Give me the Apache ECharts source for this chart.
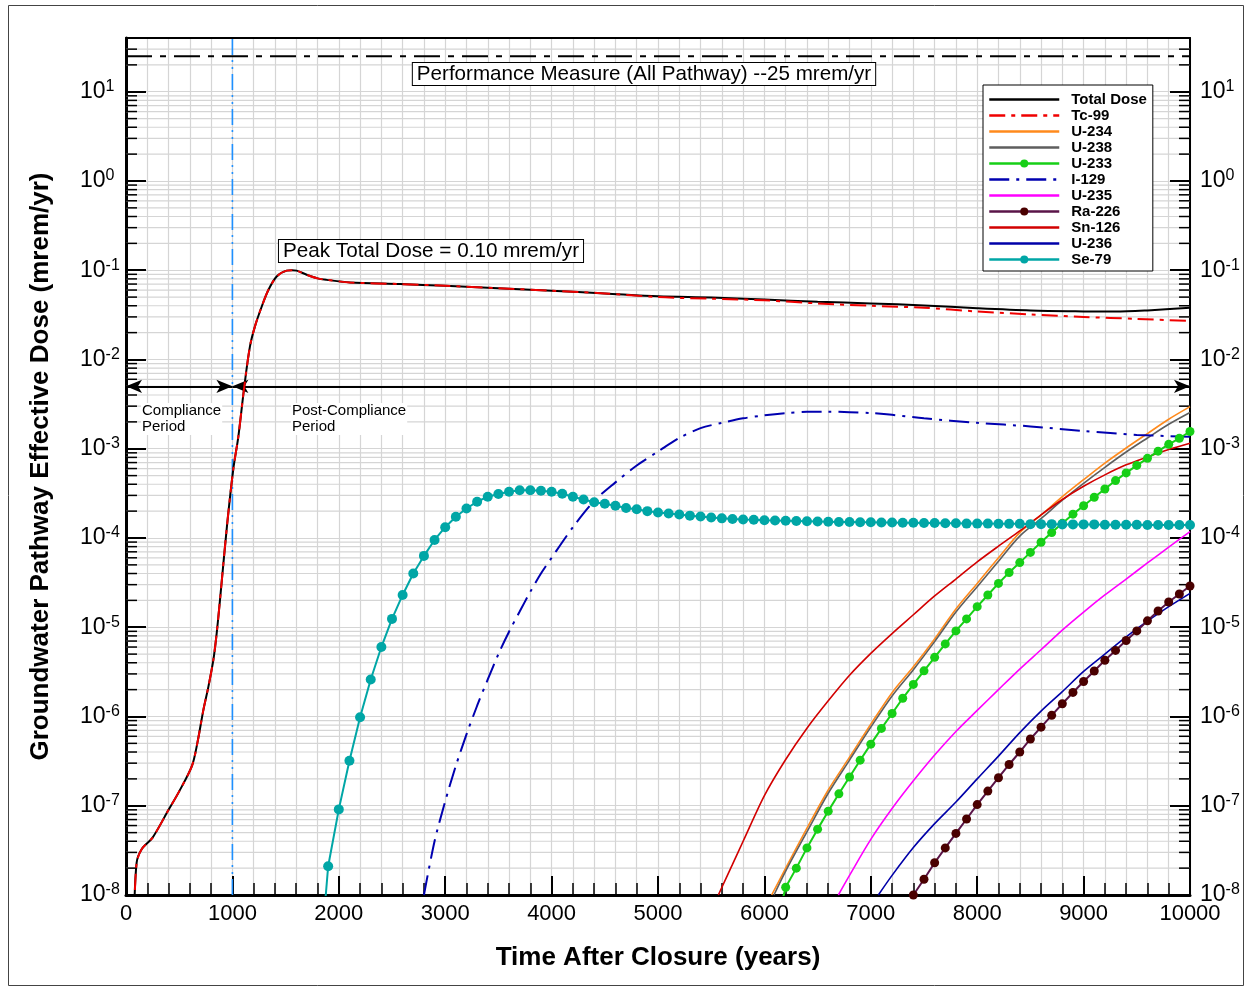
<!DOCTYPE html>
<html>
<head>
<meta charset="utf-8">
<title>Groundwater Pathway Effective Dose</title>
<script src="https://cdn.jsdelivr.net/npm/echarts@6/dist/echarts.min.js"></script>
<style>
  html, body { margin: 0; padding: 0; background: #fff; }
  #chart { width: 1250px; height: 990px; }
</style>
</head>
<body>
<div id="chart"></div>
<script>
const FONT = '"Liberation Sans", Arial, Helvetica, sans-serif';

// Axis ranges
const xMin = 0, xMax = 10000, xStep = 1000;
const yMin = 1e-8, yMax = 40;

// Reference levels (mrem/yr) and the compliance boundary (years)
const performanceMeasure = 25;
const complianceEnd = 1000;
const periodArrowLevel = 5e-3;

// [years after closure, dose mrem/yr]
const totalDose = [[75,5e-9],[100,2.3e-8],[150,3.3e-8],[250,4.4e-8],[400,9.0e-8],[500,1.45e-7],[620,2.8e-7],[670,5.0e-7],[727,1.18e-6],[774,2.15e-6],[821,4.3e-6],[852,8.5e-6],[883,2.0e-5],[950,1.4e-4],[1009,6.0e-4],[1056,1.37e-3],[1112,5.0e-3],[1165,1.4e-2],[1212,2.35e-2],[1275,3.9e-2],[1338,6.0e-2],[1416,8.5e-2],[1510,0.099],[1560,0.100],[1604,0.099],[1698,0.089],[1800,0.081],[1886,0.078],[2105,0.073],[2575,0.070],[3000,0.067],[3500,0.063],[4000,0.059],[4500,0.055],[5000,0.051],[5500,0.0495],[6000,0.047],[6500,0.0443],[7000,0.0425],[7500,0.0403],[8000,0.0375],[8500,0.0354],[9000,0.0346],[9300,0.0344],[9600,0.0355],[10000,0.038]];

const tc99 = [[75,5e-9],[100,2.3e-8],[150,3.3e-8],[250,4.4e-8],[400,9.0e-8],[500,1.45e-7],[620,2.8e-7],[670,5.0e-7],[727,1.18e-6],[774,2.15e-6],[821,4.3e-6],[852,8.5e-6],[883,2.0e-5],[950,1.4e-4],[1009,6.0e-4],[1056,1.37e-3],[1112,5.0e-3],[1165,1.4e-2],[1212,2.35e-2],[1275,3.9e-2],[1338,6.0e-2],[1416,8.5e-2],[1510,0.099],[1560,0.100],[1604,0.099],[1698,0.089],[1800,0.081],[1886,0.078],[2105,0.073],[2575,0.070],[3000,0.067],[3500,0.063],[4000,0.059],[4500,0.055],[5000,0.050],[5500,0.048],[6000,0.046],[6500,0.0425],[7000,0.040],[7500,0.038],[8000,0.0345],[8500,0.032],[9000,0.030],[9500,0.0285],[10000,0.027]];

const u234 = [[6068,1.0e-8],[6200,2.0e-8],[6400,5.6e-8],[6600,1.5e-7],[6800,3.5e-7],[7000,8.2e-7],[7200,1.85e-6],[7400,3.6e-6],[7600,7.4e-6],[7800,1.6e-5],[8000,3.1e-5],[8200,6.0e-5],[8400,1.15e-4],[8600,1.8e-4],[8800,2.9e-4],[9000,4.5e-4],[9200,6.9e-4],[9400,1.02e-3],[9600,1.48e-3],[9800,2.14e-3],[10000,2.96e-3]];

const u238 = [[6090,1.0e-8],[6200,1.85e-8],[6400,5.1e-8],[6600,1.38e-7],[6800,3.25e-7],[7000,7.6e-7],[7200,1.7e-6],[7400,3.35e-6],[7600,6.9e-6],[7800,1.48e-5],[8000,2.85e-5],[8200,5.5e-5],[8400,1.05e-4],[8600,1.65e-4],[8800,2.65e-4],[9000,4.1e-4],[9200,6.2e-4],[9400,9.2e-4],[9600,1.32e-3],[9800,1.88e-3],[10000,2.55e-3]];

const u233 = [[6100,4e-9],[6200,1.22e-8],[6300,2.0e-8],[6400,3.37e-8],[6500,5.47e-8],[6600,8.7e-8],[6700,1.36e-7],[6800,2.1e-7],[6900,3.24e-7],[7000,4.9e-7],[7100,7.35e-7],[7200,1.08e-6],[7300,1.6e-6],[7400,2.29e-6],[7500,3.25e-6],[7600,4.6e-6],[7700,6.5e-6],[7800,9.1e-6],[7900,1.24e-5],[8000,1.7e-5],[8100,2.3e-5],[8200,3.1e-5],[8300,4.1e-5],[8400,5.3e-5],[8500,6.9e-5],[8600,8.95e-5],[8700,1.15e-4],[8800,1.46e-4],[8900,1.85e-4],[9000,2.3e-4],[9100,2.86e-4],[9200,3.54e-4],[9300,4.4e-4],[9400,5.36e-4],[9500,6.5e-4],[9600,7.8e-4],[9700,9.4e-4],[9800,1.12e-3],[9900,1.31e-3],[10000,1.56e-3]];

const i129 = [[2800,1.0e-8],[2900,4.0e-8],[3000,1.12e-7],[3100,2.8e-7],[3200,6.3e-7],[3300,1.32e-6],[3400,2.6e-6],[3500,5.0e-6],[3600,8.9e-6],[3700,1.5e-5],[3800,2.5e-5],[3900,4.0e-5],[4000,6.0e-5],[4200,1.32e-4],[4400,2.6e-4],[4600,4.2e-4],[4800,6.5e-4],[5000,9.3e-4],[5200,1.32e-3],[5400,1.7e-3],[5600,1.95e-3],[5800,2.19e-3],[6000,2.37e-3],[6200,2.51e-3],[6400,2.59e-3],[6600,2.6e-3],[6800,2.57e-3],[7000,2.51e-3],[7200,2.4e-3],[7500,2.19e-3],[8000,1.95e-3],[8500,1.78e-3],[9000,1.58e-3],[9500,1.43e-3],[10000,1.36e-3]];

const u235 = [[6695,1.0e-8],[6800,1.66e-8],[7000,4.2e-8],[7200,9.3e-8],[7400,1.9e-7],[7600,3.7e-7],[7800,6.8e-7],[8000,1.17e-6],[8200,2.0e-6],[8400,3.4e-6],[8600,5.6e-6],[8800,9.3e-6],[9000,1.48e-5],[9200,2.3e-5],[9400,3.47e-5],[9600,5.25e-5],[9800,7.9e-5],[10000,1.18e-4]];

const ra226 = [[7400,1.0e-8],[7500,1.5e-8],[7600,2.3e-8],[7700,3.37e-8],[7800,4.9e-8],[7900,7.1e-8],[8000,1.03e-7],[8100,1.46e-7],[8200,2.06e-7],[8300,2.9e-7],[8400,4.0e-7],[8500,5.6e-7],[8600,7.6e-7],[8700,1.03e-6],[8800,1.39e-6],[8900,1.86e-6],[9000,2.47e-6],[9100,3.23e-6],[9200,4.26e-6],[9300,5.5e-6],[9400,7.1e-6],[9500,9.1e-6],[9600,1.18e-5],[9700,1.52e-5],[9800,1.92e-5],[9900,2.36e-5],[10000,2.9e-5]];

const sn126 = [[5567,1.0e-8],[5700,2.2e-8],[5800,4.0e-8],[6000,1.3e-7],[6200,3.3e-7],[6400,7.4e-7],[6600,1.5e-6],[6800,2.9e-6],[7000,5.1e-6],[7200,8.5e-6],[7400,1.38e-5],[7600,2.24e-5],[7800,3.47e-5],[8000,5.4e-5],[8200,8.1e-5],[8400,1.2e-4],[8600,1.82e-4],[8800,2.7e-4],[9000,3.8e-4],[9200,5.1e-4],[9400,6.6e-4],[9600,8.1e-4],[9800,9.8e-4],[10000,1.15e-3]];

const u236 = [[7071,1.0e-8],[7200,1.66e-8],[7400,3.4e-8],[7600,6.3e-8],[7800,1.1e-7],[8000,2.0e-7],[8200,3.6e-7],[8400,6.6e-7],[8600,1.15e-6],[8800,1.9e-6],[9000,3.2e-6],[9200,5.0e-6],[9400,7.8e-6],[9600,1.17e-5],[9800,1.7e-5],[10000,2.4e-5]];

const se79 = [[1850,4e-9],[1900,2.1e-8],[2000,9.1e-8],[2100,3.2e-7],[2200,9.8e-7],[2300,2.6e-6],[2400,6.0e-6],[2500,1.24e-5],[2600,2.3e-5],[2700,4.0e-5],[2800,6.3e-5],[2900,9.5e-5],[3000,1.32e-4],[3100,1.73e-4],[3200,2.14e-4],[3300,2.55e-4],[3400,2.9e-4],[3500,3.11e-4],[3600,3.3e-4],[3700,3.42e-4],[3800,3.42e-4],[3900,3.38e-4],[4000,3.3e-4],[4100,3.13e-4],[4200,2.9e-4],[4300,2.7e-4],[4400,2.52e-4],[4500,2.42e-4],[4600,2.3e-4],[4700,2.17e-4],[4800,2.1e-4],[4900,2.0e-4],[5000,1.93e-4],[5100,1.88e-4],[5200,1.83e-4],[5300,1.78e-4],[5400,1.74e-4],[5500,1.7e-4],[5600,1.66e-4],[5700,1.63e-4],[5800,1.61e-4],[5900,1.6e-4],[6000,1.58e-4],[6100,1.57e-4],[6200,1.56e-4],[6300,1.55e-4],[6400,1.54e-4],[6500,1.53e-4],[6600,1.52e-4],[6700,1.51e-4],[6800,1.51e-4],[6900,1.5e-4],[7000,1.5e-4],[7100,1.49e-4],[7200,1.49e-4],[7300,1.48e-4],[7400,1.48e-4],[7500,1.47e-4],[7600,1.47e-4],[7700,1.46e-4],[7800,1.46e-4],[7900,1.45e-4],[8000,1.45e-4],[8100,1.45e-4],[8200,1.44e-4],[8300,1.44e-4],[8400,1.44e-4],[8500,1.43e-4],[8600,1.43e-4],[8700,1.43e-4],[8800,1.42e-4],[8900,1.42e-4],[9000,1.42e-4],[9100,1.42e-4],[9200,1.41e-4],[9300,1.41e-4],[9400,1.41e-4],[9500,1.41e-4],[9600,1.4e-4],[9700,1.4e-4],[9800,1.4e-4],[9900,1.4e-4],[10000,1.4e-4]];

const legendOrder = ['Total Dose','Tc-99','U-234','U-238','U-233','I-129','U-235','Ra-226','Sn-126','U-236','Se-79'];
const markedSeries = ['U-233','Ra-226','Se-79'];

// Minor log gridlines / ticks at 2..9 x 10^k
const minorLevels = [];
for (let e = -8; e <= 1; e++) {
  for (let m = 2; m <= 9; m++) {
    const v = m * Math.pow(10, e);
    if (v < yMax) minorLevels.push(v);
  }
}

const GRID_COLOR = '#d5d5d5';

// points below the axis floor only carry the line down to the frame
function withMarkers(points) {
  return points.map(p => p[1] < yMin ? { value: p, symbol: 'none' } : p);
}

function curve(name, data, color, width, dash, extra) {
  return Object.assign({
    name, type: 'line', data, z: 5,
    showSymbol: false, symbol: 'none',
    smooth: 0.3,
    lineStyle: { color, width, type: dash || 'solid' },
    itemStyle: { color },
    emphasis: { disabled: true },
    animation: false
  }, extra || {});
}

function markerCurve(name, data, lineColor, markerColor, size) {
  return {
    name, type: 'line', data: withMarkers(data), z: 6,
    symbol: 'circle', symbolSize: size, showSymbol: true, showAllSymbol: true,
    lineStyle: { color: lineColor, width: 2 },
    itemStyle: { color: markerColor, borderWidth: 0 },
    emphasis: { disabled: true },
    animation: false
  };
}

function powLabel(value) {
  const e = Math.round(Math.log10(value));
  return '{b|10}{s|' + e + '}';
}
const powRich = {
  b: { fontSize: 23, fontFamily: FONT, color: '#000', lineHeight: 26, verticalAlign: 'middle' },
  s: { fontSize: 16, fontFamily: FONT, color: '#000', lineHeight: 16, verticalAlign: 'top' }
};

const peakDose = Math.max(...totalDose.map(p => p[1]));

const chart = echarts.init(document.getElementById('chart'), null, { renderer: 'canvas' });

chart.setOption({
  animation: false,
  backgroundColor: '#fff',
  grid: { left: 126, right: 60, top: 38, bottom: 95, containLabel: false },
  legend: {
    orient: 'vertical', left: 983, top: 85,
    data: legendOrder.map(n => markedSeries.includes(n) ? n : { name: n, itemStyle: { opacity: 0 } }),
    itemWidth: 70, itemHeight: 10, itemGap: 1,
    selectedMode: false,
    backgroundColor: '#fff', borderColor: '#000', borderWidth: 1, borderRadius: 0,
    padding: [7, 6, 4, 5],
    lineStyle: { width: 2.5 },
    textStyle: { fontFamily: FONT, fontWeight: 'bold', fontSize: 15, color: '#000', padding: [0, 0, 0, 7] },
    z: 20
  },
  xAxis: [{
    type: 'value', min: xMin, max: xMax, interval: xStep, position: 'bottom',
    axisLine: { show: true, onZero: false, lineStyle: { color: '#000', width: 3 } },
    axisTick: { show: true, inside: true, length: 19, lineStyle: { color: '#000', width: 2 } },
    minorTick: { show: true, splitNumber: 5, length: 12, lineStyle: { color: '#000', width: 1.5 } },
    splitLine: { show: true, lineStyle: { color: GRID_COLOR, width: 1.2 } },
    minorSplitLine: { show: true, lineStyle: { color: GRID_COLOR, width: 1.2 } },
    axisLabel: { fontSize: 22, fontFamily: FONT, color: '#000', margin: 8, formatter: v => String(v) },
    name: 'Time After Closure (years)', nameLocation: 'middle', nameGap: 50,
    nameTextStyle: { fontSize: 26, fontWeight: 'bold', fontFamily: FONT, color: '#000' }
  }, {
    type: 'value', min: xMin, max: xMax, position: 'top',
    axisLine: { show: true, onZero: false, lineStyle: { color: '#000', width: 2 } },
    axisTick: { show: false }, axisLabel: { show: false }, splitLine: { show: false }
  }],
  yAxis: [{
    type: 'log', logBase: 10, min: yMin, max: yMax, splitNumber: 10, position: 'left',
    axisLine: { show: true, onZero: false, lineStyle: { color: '#000', width: 3 } },
    axisTick: { show: true, inside: true, length: 20, lineStyle: { color: '#000', width: 2 } },
    splitLine: { show: true, lineStyle: { color: GRID_COLOR, width: 1.2 } },
    axisLabel: { formatter: powLabel, rich: powRich, margin: 46, align: 'left', showMaxLabel: false },
    name: 'Groundwater Pathway Effective Dose (mrem/yr)', nameLocation: 'middle', nameGap: 72, nameRotate: 90,
    nameTextStyle: { fontSize: 26, fontWeight: 'bold', fontFamily: FONT, color: '#000' }
  }, {
    type: 'log', logBase: 10, min: yMin, max: yMax, splitNumber: 10, position: 'right',
    axisLine: { show: true, onZero: false, lineStyle: { color: '#000', width: 2 } },
    axisTick: { show: true, inside: true, length: 20, lineStyle: { color: '#000', width: 2 } },
    splitLine: { show: false },
    axisLabel: { formatter: powLabel, rich: powRich, margin: 10, align: 'left', showMaxLabel: false }
  }],
  series: [
    {
      // minor log gridlines plus the short ticks on both vertical axes
      type: 'custom', name: 'minor-grid', silent: true, z: 1, clip: false,
      data: minorLevels.map(v => [xMin, v]),
      encode: { x: 0, y: 1 },
      renderItem(params, api) {
        const v = api.value(1);
        const a = api.coord([xMin, v]);
        const b = api.coord([xMax, v]);
        return {
          type: 'group',
          children: [
            { type: 'line', shape: { x1: a[0], y1: a[1], x2: b[0], y2: b[1] }, style: { stroke: GRID_COLOR, lineWidth: 1.2 } },
            { type: 'line', z2: 50, shape: { x1: a[0], y1: a[1], x2: a[0] + 11, y2: a[1] }, style: { stroke: '#000', lineWidth: 1.5 } },
            { type: 'line', z2: 50, shape: { x1: b[0] - 11, y1: b[1], x2: b[0], y2: b[1] }, style: { stroke: '#000', lineWidth: 1.5 } }
          ]
        };
      },
      animation: false
    },
    curve('performance', [[xMin, performanceMeasure], [xMax, performanceMeasure]], '#000', 2, [26, 8, 6, 8], { z: 4, silent: true, smooth: false }),
    curve('compliance-boundary', [[complianceEnd, yMin], [complianceEnd, yMax]], '#1e90ff', 1.6, [16, 5, 2, 5, 2, 5], { z: 4, silent: true, smooth: false }),
    {
      type: 'line', name: 'period-arrows', silent: true, z: 4,
      data: [[xMin, periodArrowLevel], [xMax, periodArrowLevel]],
      symbol: 'none', lineStyle: { opacity: 0 },
      markLine: {
        silent: true, animation: false,
        symbol: ['arrow', 'arrow'], symbolSize: [10, 16],
        label: { show: false },
        lineStyle: { color: '#000', width: 2, type: 'solid' },
        emphasis: { disabled: true },
        data: [
          [{ coord: [xMin, periodArrowLevel] }, { coord: [complianceEnd, periodArrowLevel] }],
          [{ coord: [complianceEnd, periodArrowLevel] }, { coord: [xMax, periodArrowLevel] }]
        ]
      }
    },
    curve('Total Dose', totalDose, '#000', 2),
    curve('Tc-99', tc99, '#f00000', 2, [16, 6, 4, 6]),
    curve('U-234', u234, '#ff8a1c', 1.6),
    curve('U-238', u238, '#5e5e5e', 1.6),
    markerCurve('U-233', u233, '#16cf16', '#16cf16', 9),
    curve('I-129', i129, '#0000b0', 2, [20, 7, 3, 7]),
    curve('U-235', u235, '#ff00ff', 1.6),
    markerCurve('Ra-226', ra226, '#5a1448', '#4a0000', 9),
    curve('Sn-126', sn126, '#d20000', 1.6),
    curve('U-236', u236, '#0000a8', 1.6),
    markerCurve('Se-79', se79, '#00a6a6', '#00a6a6', 10)
  ],
  graphic: [
    {
      type: 'rect', silent: true, z: 0,
      shape: { x: 8.5, y: 5.5, width: 1235, height: 980 },
      style: { fill: 'none', stroke: '#444', lineWidth: 1 }
    },
    {
      type: 'text', silent: true, z: 30, x: 644, y: 74,
      style: {
        text: 'Performance Measure (All Pathway) --' + performanceMeasure + ' mrem/yr',
        font: '20.6px ' + FONT, fill: '#000', align: 'center', verticalAlign: 'middle',
        backgroundColor: '#fff', borderColor: '#000', borderWidth: 1, padding: [1, 4, 0, 4]
      }
    },
    {
      type: 'text', silent: true, z: 30, x: 431, y: 251,
      style: {
        text: 'Peak Total Dose = ' + peakDose.toFixed(2) + ' mrem/yr',
        font: '20.7px ' + FONT, fill: '#000', align: 'center', verticalAlign: 'middle',
        backgroundColor: '#fff', borderColor: '#000', borderWidth: 1, padding: [1, 4, 0, 4]
      }
    },
    {
      type: 'text', silent: true, z: 30, x: 141, y: 403,
      style: { text: 'Compliance\nPeriod', font: '15px ' + FONT, lineHeight: 16, fill: '#000', backgroundColor: '#fff', padding: [0, 1] }
    },
    {
      type: 'text', silent: true, z: 30, x: 291, y: 403,
      style: { text: 'Post-Compliance\nPeriod', font: '15px ' + FONT, lineHeight: 16, fill: '#000', backgroundColor: '#fff', padding: [0, 1] }
    }
  ]
});
</script>
</body>
</html>
